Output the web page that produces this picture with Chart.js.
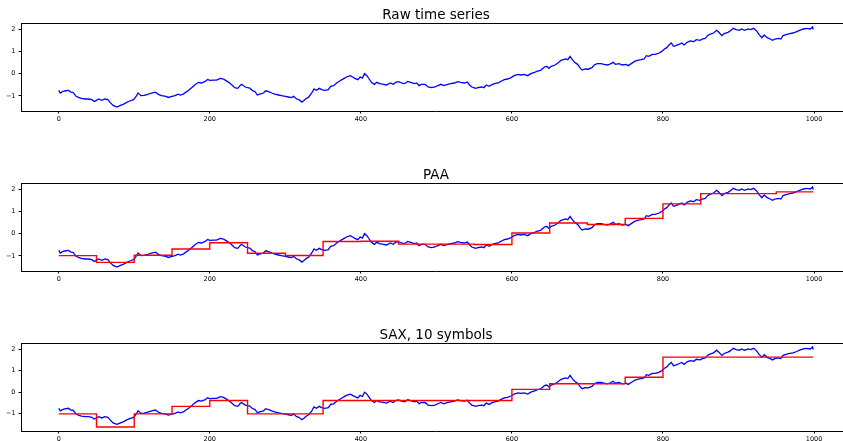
<!DOCTYPE html>
<html><head><meta charset="utf-8">
<script src="https://cdn.jsdelivr.net/npm/chart.js@4.4.1/dist/chart.umd.min.js"></script>
<style>
html,body{margin:0;padding:0;background:#fff;overflow:hidden;width:843px;height:441px;position:relative;}
canvas{position:absolute;left:0;}
</style></head><body>
<canvas id="c1" width="851" height="140" style="top:0px"></canvas>
<canvas id="c2" width="851" height="140" style="top:160px"></canvas>
<canvas id="c3" width="851" height="140" style="top:320px"></canvas>
<script>
// ---- data ----
const seriesLength = 1000;
const segmentLength = 50;
const titles = ["Raw time series", "PAA", "SAX, 10 symbols"];
const xTicks = [0, 200, 400, 600, 800, 1000];
const xTickLabels = ["0", "200", "400", "600", "800", "1000"];
const yTicks = [-1, 0, 1, 2];
const yTickLabels = ["\u22121", "0", "1", "2"];

const rawX = [0,2,5,8,13,16,19,23,26,30,35,39,44,47,50,53,57,61,65,68,72,77,81,86,90,94,99,102,105,109,113,118,123,128,132,136,142,145,150,154,158,161,165,168,172,176,180,185,189,194,197,200,205,209,214,218,221,225,229,233,237,240,242,247,250,253,256,260,263,266,271,274,278,282,286,291,295,300,304,308,311,315,318,322,325,328,331,335,338,
341,345,348,352,357,360,364,368,371,375,378,381,386,389,392,396,399,402,405,408,411,414,418,421,425,430,434,439,443,446,450,454,458,462,466,471,474,477,480,485,489,494,498,502,506,510,515,519,524,528,532,537,541,544,547,552,555,560,563,566,570,573,577,582,585,590,594,599,603,608,612,616,621,625,630,634,638,643,646,649,652,657,661,665,668,671,674,677,680,
683,687,690,693,697,701,706,709,713,718,722,727,731,734,737,742,746,751,754,758,762,766,771,775,778,781,786,790,795,798,802,805,808,811,814,817,821,825,828,832,836,841,844,849,852,856,859,862,867,871,874,878,881,886,889,893,897,901,904,908,913,916,920,924,927,931,934,938,942,945,948,953,956,959,964,968,972,977,981,986,990,995,998,999];
const rawY = [-0.75,-0.87,-0.81,-0.78,-0.75,-0.83,-0.84,-1.02,-1.07,-1.11,-1.14,-1.14,-1.17,-1.25,-1.20,-1.14,-1.20,-1.14,-1.17,-1.29,-1.43,-1.50,-1.44,-1.37,-1.29,-1.23,-1.17,-1.05,-0.87,-0.99,-0.98,-0.93,-0.87,-0.83,-0.93,-0.99,-1.02,-1.07,-1.02,-0.99,-0.92,-0.96,-0.92,-0.84,-0.75,-0.63,-0.51,-0.39,-0.42,-0.35,-0.26,-0.30,-0.29,-0.29,-0.21,-0.24,-0.30,-0.39,-0.50,-0.63,-0.66,-0.54,-0.48,-0.60,-0.63,-0.65,-0.75,-0.81,-0.96,-0.92,-0.87,-0.77,-0.81,-0.87,-0.92,-0.96,-0.99,-1.02,-1.05,-1.08,-1.02,-1.14,-1.17,-1.28,-1.20,-1.11,-1.05,-0.87,-0.69,
-0.75,-0.66,-0.72,-0.75,-0.72,-0.57,-0.54,-0.42,-0.35,-0.27,-0.21,-0.15,-0.09,-0.15,-0.21,-0.27,-0.15,-0.20,0.00,-0.09,-0.24,-0.39,-0.48,-0.39,-0.45,-0.48,-0.51,-0.42,-0.48,-0.39,-0.36,-0.42,-0.45,-0.35,-0.39,-0.45,-0.42,-0.54,-0.48,-0.48,-0.60,-0.63,-0.60,-0.54,-0.48,-0.54,-0.48,-0.45,-0.42,-0.36,-0.39,-0.42,-0.38,-0.51,-0.60,-0.66,-0.63,-0.60,-0.63,-0.51,-0.57,-0.50,-0.45,-0.42,-0.35,-0.27,-0.24,-0.18,-0.09,-0.03,-0.06,-0.03,-0.09,0.00,0.06,0.12,0.15,0.30,0.33,0.24,0.33,0.39,0.48,0.60,0.63,0.66,0.63,0.78,0.63,
0.51,0.42,0.27,0.16,0.21,0.20,0.27,0.39,0.45,0.45,0.42,0.39,0.45,0.51,0.42,0.45,0.39,0.42,0.36,0.45,0.54,0.60,0.63,0.66,0.81,0.78,0.87,0.87,0.93,0.99,1.11,1.17,1.29,1.38,1.23,1.26,1.32,1.38,1.29,1.41,1.47,1.44,1.53,1.50,1.56,1.59,1.71,1.77,1.83,1.95,1.86,1.71,1.80,1.86,1.92,2.04,1.98,1.95,2.01,1.95,2.01,1.98,2.04,1.92,1.77,1.62,1.74,1.62,1.56,1.50,1.56,1.59,1.56,1.71,1.77,1.80,1.83,1.89,1.95,2.01,2.04,2.01,2.10,1.98];

const paaValues = [-0.99,-1.29,-0.97,-0.69,-0.41,-0.88,-0.98,-0.35,-0.34,-0.47,-0.47,-0.49,0.03,0.48,0.41,0.69,1.34,1.80,1.80,1.88];
const saxValues = [-1.01,-1.62,-1.01,-0.66,-0.39,-1.01,-1.01,-0.39,-0.39,-0.39,-0.39,-0.39,0.13,0.39,0.39,0.69,1.63,1.63,1.63,1.63];

// ---- build point lists ----
const rawPoints = rawX.map((x, i) => ({x: x, y: rawY[i]}));
function stepPoints(vals) {
  const pts = vals.map((v, i) => ({x: i * segmentLength, y: v}));
  pts.push({x: seriesLength - 1, y: vals[vals.length - 1]});
  return pts;
}
const xMin = -0.05 * (seriesLength - 1);
const xMax = (seriesLength - 1) * 1.05;
function yRange(arrs) {
  let lo = Infinity, hi = -Infinity;
  arrs.forEach(a => a.forEach(v => { lo = Math.min(lo, v); hi = Math.max(hi, v); }));
  const m = (hi - lo) * 0.05;
  return [lo - m, hi + m];
}

const framePlugin = {
  id: 'frame',
  afterDraw(chart) {
    const a = chart.chartArea, ctx = chart.ctx;
    ctx.save();
    ctx.strokeStyle = '#000';
    ctx.lineWidth = 1;
    ctx.beginPath();
    ctx.moveTo(a.left, Math.round(a.top) + 0.5);
    ctx.lineTo(a.right, Math.round(a.top) + 0.5);
    ctx.moveTo(Math.round(a.right) - 0.5, a.top);
    ctx.lineTo(Math.round(a.right) - 0.5, a.bottom);
    ctx.stroke();
    ctx.restore();
  }
};

const FONT = "'DejaVu Sans', sans-serif";
function makeChart(id, title, datasets, range) {
  return new Chart(document.getElementById(id), {
    type: 'line',
    data: { datasets: datasets },
    plugins: [framePlugin],
    options: {
      responsive: false,
      animation: false,
      events: [],
      devicePixelRatio: 1,
      layout: { padding: 0 },
      plugins: {
        legend: { display: false },
        tooltip: { enabled: false },
        title: {
          display: true, text: title, fullSize: false, color: '#000',
          font: { family: FONT, size: 13.5, weight: 'normal', lineHeight: 1.0 },
          padding: { top: 8.8, bottom: 0.7 }
        }
      },
      elements: { point: { radius: 0 }, line: { tension: 0 } },
      scales: {
        x: {
          type: 'linear', min: xMin, max: xMax,
          afterBuildTicks: s => { s.ticks = xTicks.map(v => ({value: v})); },
          afterFit: s => { s.height = 29; },
          grid: { drawOnChartArea: false, drawTicks: true, tickLength: 2.5, tickWidth: 1, tickColor: '#000' },
          border: { display: true, color: '#000', width: 1 },
          ticks: { font: { family: FONT, size: 6.5 }, color: '#000', padding: 2, maxRotation: 0, autoSkip: false,
                   callback: v => xTickLabels[xTicks.indexOf(v)] }
        },
        y: {
          type: 'linear', min: range[0], max: range[1],
          afterBuildTicks: s => { s.ticks = yTicks.map(v => ({value: v})); },
          afterFit: s => { s.width = 21; },
          grid: { drawOnChartArea: false, drawTicks: true, tickLength: 2.5, tickWidth: 1, tickColor: '#000' },
          border: { display: true, color: '#000', width: 1 },
          ticks: { font: { family: FONT, size: 6.5 }, color: '#000', padding: 3, autoSkip: false,
                   callback: v => yTickLabels[yTicks.indexOf(v)] }
        }
      }
    }
  });
}

const rawDs = () => ({ data: rawPoints, borderColor: '#0000ff', borderWidth: 1.3, pointRadius: 0, fill: false });
const stepDs = vals => ({ data: stepPoints(vals), borderColor: '#ff0000', borderWidth: 1.4, pointRadius: 0, fill: false, stepped: true });

makeChart('c1', titles[0], [rawDs()], yRange([rawY]));
makeChart('c2', titles[1], [stepDs(paaValues), rawDs()], yRange([rawY, paaValues]));
makeChart('c3', titles[2], [stepDs(saxValues), rawDs()], yRange([rawY, saxValues]));
</script>
</body></html>
